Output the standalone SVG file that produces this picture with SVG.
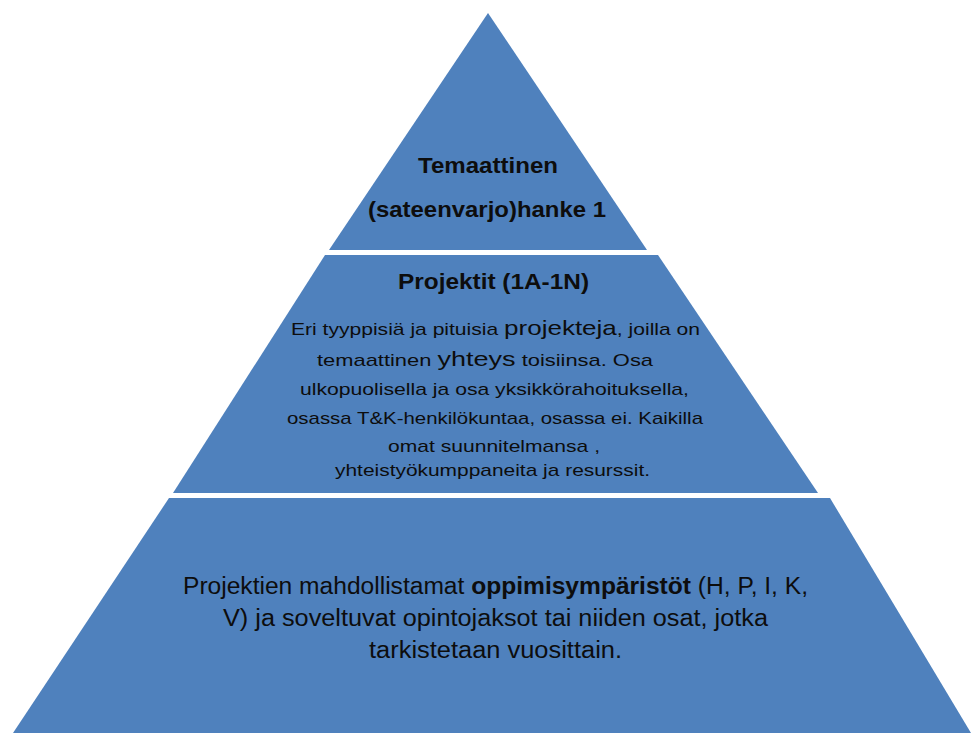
<svg xmlns="http://www.w3.org/2000/svg" width="971" height="733" viewBox="0 0 971 733">
<style>
.band{fill:#4F81BD;stroke:none}
.t{font-family:"Liberation Sans",Arial,sans-serif;fill:#0d0d0d;text-anchor:middle}
.b{font-weight:bold}
</style>
<rect width="971" height="733" fill="#ffffff"/>
<g id="top">
<polygon class="band" points="488,13 647,250 329,250"/>
<text class="t b" x="488" y="173" font-size="22" textLength="140" lengthAdjust="spacingAndGlyphs">Temaattinen</text>
<text class="t b" x="487" y="217" font-size="22" textLength="238" lengthAdjust="spacingAndGlyphs">(sateenvarjo)hanke 1</text>
</g>
<g id="middle">
<polygon class="band" points="325,255 658,255 818,493 173,493"/>
<text class="t b" x="493.5" y="289" font-size="22" textLength="191" lengthAdjust="spacingAndGlyphs">Projektit (1A-1N)</text>
<text class="t" x="495.5" y="335" font-size="17" textLength="409" lengthAdjust="spacingAndGlyphs">Eri tyyppisiä ja pituisia <tspan font-size="21">projekteja</tspan>, joilla on</text>
<text class="t" x="485" y="366" font-size="17" textLength="336" lengthAdjust="spacingAndGlyphs">temaattinen <tspan font-size="21">yhteys</tspan> toisiinsa. Osa</text>
<text class="t" x="494.5" y="395" font-size="17" textLength="389" lengthAdjust="spacingAndGlyphs">ulkopuolisella ja osa yksikkörahoituksella,</text>
<text class="t" x="495" y="424" font-size="17" textLength="416" lengthAdjust="spacingAndGlyphs">osassa T&amp;K-henkilökuntaa, osassa ei. Kaikilla</text>
<text class="t" x="494" y="452" font-size="17" textLength="212" lengthAdjust="spacingAndGlyphs">omat suunnitelmansa ,</text>
<text class="t" x="492.5" y="476" font-size="17" textLength="315" lengthAdjust="spacingAndGlyphs">yhteistyökumppaneita ja resurssit.</text>
</g>
<g id="bottom">
<polygon class="band" points="169,498 830,498 971,733 13,733"/>
<text class="t" x="495.5" y="594" font-size="23.5" textLength="625" lengthAdjust="spacingAndGlyphs">Projektien mahdollistamat <tspan class="b">oppimisympäristöt</tspan>  (H, P, I, K,</text>
<text class="t" x="495.5" y="626" font-size="23.5" textLength="545" lengthAdjust="spacingAndGlyphs">V) ja soveltuvat opintojaksot tai niiden osat, jotka</text>
<text class="t" x="495.5" y="658" font-size="23.5" textLength="253" lengthAdjust="spacingAndGlyphs">tarkistetaan vuosittain.</text>
</g>
</svg>
